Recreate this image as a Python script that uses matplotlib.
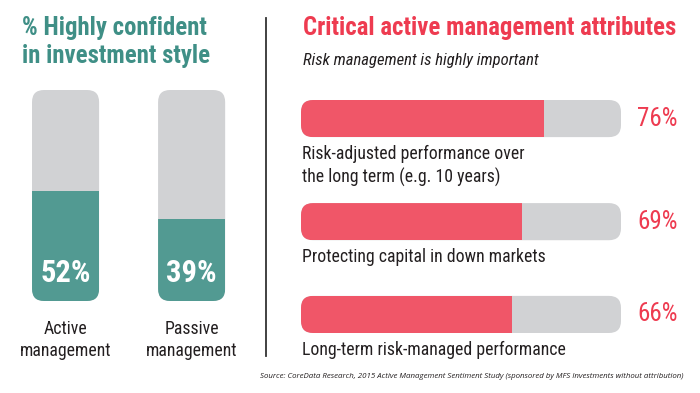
import matplotlib
matplotlib.use("Agg")
import matplotlib.pyplot as plt
from matplotlib.patches import FancyBboxPatch

# ---------------------------------------------------------------------------
# Data
# ---------------------------------------------------------------------------

style_labels = ["Active\nmanagement", "Passive\nmanagement"]
style_pct = [52, 39]

attr_labels = [
    "Risk-adjusted performance over\nthe long term (e.g. 10 years)",
    "Protecting capital in down markets",
    "Long-term risk-managed performance",
]
attr_pct = [76, 69, 66]

left_title = ["% Highly confident", "in investment style"]
right_title = "Critical active management attributes"
right_subtitle = "Risk management is highly important"
source_note = ("Source: CoreData Research, 2015 Active Management Sentiment Study "
               "(sponsored by MFS Investments without attribution)")

# ---------------------------------------------------------------------------
# Style / layout
# ---------------------------------------------------------------------------

TEAL = "#529a92"
TEAL_TITLE = "#3f8f86"
GREY = "#d1d2d4"
RED = "#f05668"
RED_TEXT = "#ee3b50"
INK = "#231f20"

COND = ["Roboto Condensed", "DejaVu Sans"]
ROW_Y = [0.0, 1.0, 1.9]      # vertical slots of the three attribute rows
CORNER_PX = 12

W, H = 700, 393
fig = plt.figure(figsize=(W / 100, H / 100), dpi=100)
fig.patch.set_facecolor("white")


def px_axes(x0, y0, x1, y1):
    """Axes from a pixel box measured from the top-left corner."""
    ax = fig.add_axes([x0 / W, 1 - y1 / H, (x1 - x0) / W, (y1 - y0) / H])
    ax.set_axis_off()
    return ax


def rounded_track(ax, x, y, w, h):
    """Grey rounded track; returns the patch so the fill can be clipped to it."""
    bb = ax.get_position()
    xl, yl = ax.get_xlim(), ax.get_ylim()
    px_x = bb.width * W / abs(xl[1] - xl[0])
    px_y = bb.height * H / abs(yl[1] - yl[0])
    track = FancyBboxPatch((x, y), w, h,
                           boxstyle=f"round,pad=0,rounding_size={CORNER_PX / px_x}",
                           mutation_aspect=px_x / px_y,
                           facecolor=GREY, edgecolor="none")
    ax.add_patch(track)
    return track


# ---------------------------------------------------------------------------
# Left: vertical bars
# ---------------------------------------------------------------------------

axl = px_axes(0, 90, 266, 301)
axl.set_xlim(-0.52, 1.59)
axl.set_ylim(0, 100)
bw = 0.532
for i, (lab, pct) in enumerate(zip(style_labels, style_pct)):
    track = rounded_track(axl, i - bw / 2, 0, bw, 100)
    bars = axl.bar(i, pct, width=bw, color=TEAL, linewidth=0)
    bars[0].set_clip_path(track)
    axl.text(i, 13.5, f"{pct}%", ha="center", va="center", color="white",
             fontsize=22, fontweight="bold", family=COND)
    axl.text(i, -9, lab, ha="center", va="top", color=INK, fontsize=12.8,
             linespacing=1.3, family=COND, clip_on=False)

fig.text(22 / W, 1 - 35 / H, left_title[0], color=TEAL_TITLE, fontsize=17.8,
         fontweight="bold", family=COND, va="baseline")
fig.text(22 / W, 1 - 63 / H, left_title[1], color=TEAL_TITLE, fontsize=17.8,
         fontweight="bold", family=COND, va="baseline")

# divider
fig.add_artist(plt.Line2D([266 / W, 266 / W], [1 - 18 / H, 1 - 356 / H],
                          color="#333333", linewidth=1.3))

# ---------------------------------------------------------------------------
# Right: horizontal bars
# ---------------------------------------------------------------------------

axr = px_axes(301, 100, 621, 333)
axr.set_xlim(0, 100)
axr.set_ylim(2.08, -0.18)
bh = 0.36
for y, lab, pct in zip(ROW_Y, attr_labels, attr_pct):
    track = rounded_track(axr, 0, y - bh / 2, 100, bh)
    bars = axr.barh(y, pct, height=bh, color=RED, linewidth=0)
    bars[0].set_clip_path(track)
    axr.text(105, y, f"{pct}%", ha="left", va="center", color=RED_TEXT,
             fontsize=18, family=COND, clip_on=False)
    axr.text(0.3, y + bh / 2 + 0.075, lab, ha="left", va="top", color=INK,
             fontsize=12.8, linespacing=1.3, family=COND, clip_on=False)

fig.text(303 / W, 1 - 35 / H, right_title, color=RED_TEXT, fontsize=17.8,
         fontweight="bold", family=COND, va="baseline")
fig.text(303 / W, 1 - 65 / H, right_subtitle, color=INK, fontsize=12,
         style="italic", family=COND, va="baseline")

fig.text(683 / W, 1 - 377 / H, source_note, color=INK, fontsize=5.7,
         style="italic", family=["Open Sans", "DejaVu Sans"],
         ha="right", va="center")

fig.savefig("out.png", dpi=100, facecolor="white")
